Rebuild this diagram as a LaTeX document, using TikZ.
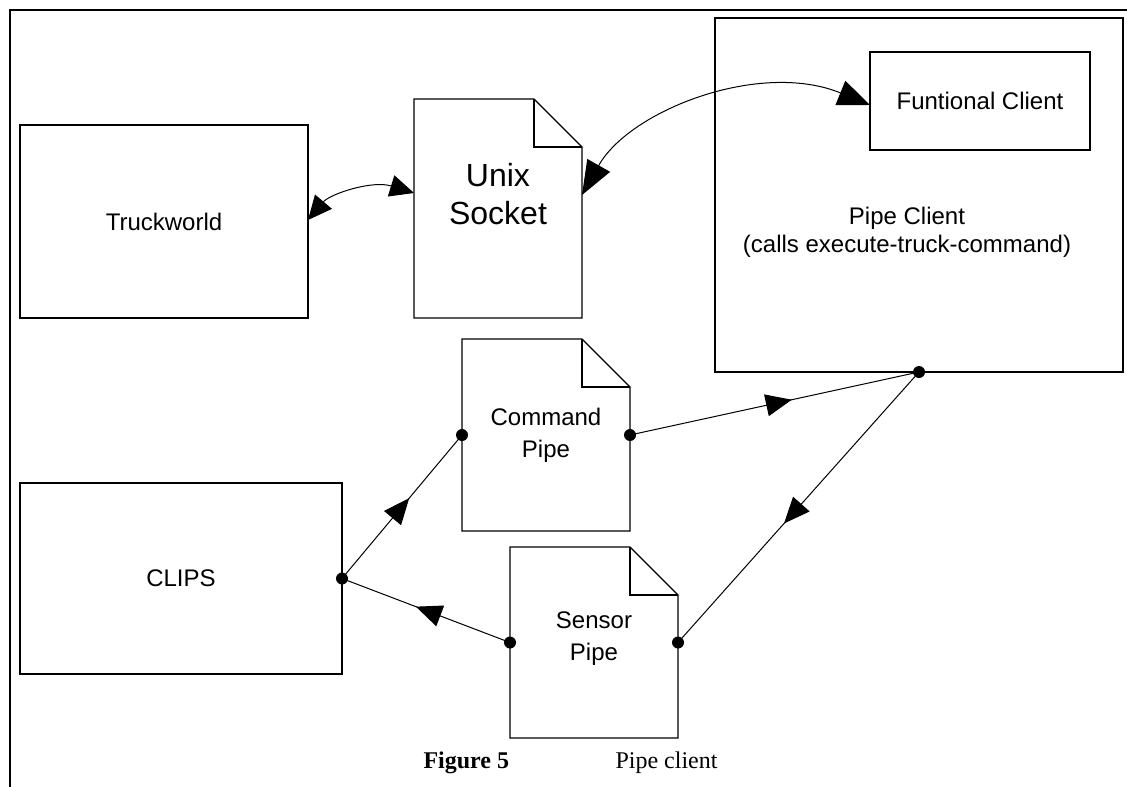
\documentclass[tikz,border=0pt]{standalone}
\usepackage{fontspec}
\setmainfont{Liberation Sans}
\newfontfamily\capfont{Liberation Serif}
\usetikzlibrary{arrows.meta,decorations.markings}

% outline of a page with a folded corner, drawn round a node
\newcommand{\docframe}[1]{%
	\draw[boxline] (#1.south west) -- (#1.north west) -- ([xshift=-48pt]#1.north east)
		-- ([yshift=-48pt]#1.north east) -- (#1.south east) -- cycle;
	\draw[foldline] ([xshift=-48pt]#1.north east) |- ([yshift=-48pt]#1.north east);}

\begin{document}
\begin{tikzpicture}[x=1pt,y=-1pt,
	box/.style={rectangle,draw=black,line width=1.3pt,inner sep=0pt,outer sep=0pt,
		align=center,font=\fontsize{24}{32}\selectfont},
	doc/.style={rectangle,inner sep=0pt,outer sep=0pt,minimum width=168pt,
		align=center,font=\fontsize{24}{32}\selectfont},
	boxline/.style={line width=1.3pt,line join=miter},
	foldline/.style={line width=2pt},
	flow/.style={line width=1pt,postaction={decorate},
		decoration={markings,mark=at position 0.56 with {\arrow{Triangle[length=26pt,width=22pt]}}}},
	talk/.style={line width=1pt,{Triangle[length=24pt,width=22pt]}-{Triangle[length=24pt,width=22pt]}},
	bigtalk/.style={line width=1pt,{Triangle[length=34pt,width=26pt]}-{Triangle[length=32pt,width=26pt]}},
	pin/.style={circle,fill=black,inner sep=0pt,minimum size=12pt}]
	\useasboundingbox (0,0) rectangle (1127,787);
	\draw[line width=2.5pt] (1127,10) -- (10,10) -- (10,787);

	\node[box,minimum width=288pt,minimum height=193pt] (trw) at (164,221.5) {Truckworld};
	\node[doc,minimum height=219pt] (sock) at (498,208.5) {};
	\node[doc,font=\fontsize{32}{38}\selectfont] (socktext) at (498,194) {Unix\\Socket};
	\node[box,minimum width=408pt,minimum height=354pt] (pipe) at (919,195) {};
	\node[box,minimum width=220pt,minimum height=98pt] (func) at (980,101) {Funtional Client};
	\node[align=center,font=\fontsize{24}{28}\selectfont] (pipetext) at (907,232)
		{Pipe Client\\(calls execute-truck-command)};
	\node[doc,minimum height=192pt] (cmd) at (546,435) {Command\\Pipe};
	\node[doc,minimum height=191pt] (sens) at (594,642.5) {};
	\node[doc] (senstext) at (594,639) {Sensor\\Pipe};
	\node[box,minimum width=322pt,minimum height=191pt] (clips) at (181,578.5) {CLIPS};
	\docframe{sock}
	\docframe{cmd}
	\docframe{sens}

	\draw[talk] (trw.east |- 0,220) .. controls (330,194) and (372,180) .. (sock.west |- 0,193);
	\draw[bigtalk] (sock.east |- 0,195) .. controls (630,110) and (760,60) .. (func.west |- 0,105);

	\draw[flow] (clips.east) -- (cmd.west);
	\draw[flow] (cmd.east) -- (pipe.south);
	\draw[flow] (pipe.south) -- (sens.east);
	\draw[flow] (sens.west) -- (clips.east);

	\node[pin] (d1) at (clips.east) {};
	\node[pin] (d2) at (cmd.west) {};
	\node[pin] (d3) at (cmd.east) {};
	\node[pin] (d4) at (pipe.south) {};
	\node[pin] (d5) at (sens.west) {};
	\node[pin] (d6) at (sens.east) {};

	\node[anchor=base west,font=\capfont\bfseries\fontsize{24}{28}\selectfont] (figno) at (420,768) {Figure 5};
	\node[anchor=base west,font=\capfont\fontsize{24}{28}\selectfont] (figcap) at (612,768) {Pipe client};
\end{tikzpicture}
\end{document}
